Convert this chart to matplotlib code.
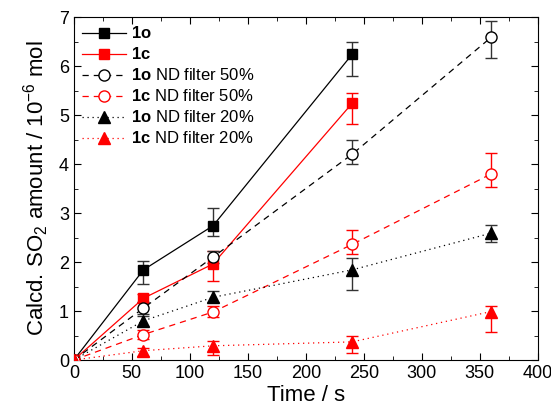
import numpy as np
import matplotlib
matplotlib.use("Agg")
import matplotlib.pyplot as plt
from matplotlib.ticker import MultipleLocator

plt.rcParams['font.family'] = ['Liberation Sans', 'DejaVu Sans']
plt.rcParams['mathtext.fontset'] = 'custom'
plt.rcParams['mathtext.rm'] = 'Liberation Sans'
plt.rcParams['mathtext.bf'] = 'Liberation Sans:bold'

# time points (s)
t_full = [0, 60, 120, 240]
t_nd = [0, 60, 120, 240, 360]

# SO2 amounts (1e-6 mol)
y_1o = [0, 1.84, 2.74, 6.24]
y_1c = [0, 1.26, 1.96, 5.24]
y_1o_50 = [0, 1.06, 2.10, 4.20, 6.59]
y_1c_50 = [0, 0.52, 0.98, 2.36, 3.80]
y_1o_20 = [0, 0.80, 1.28, 1.84, 2.59]
y_1c_20 = [0, 0.19, 0.29, 0.37, 0.99]

# asymmetric errors (lower, upper)
err_1o = [[0, 0.29, 0.21, 0.44], [0, 0.19, 0.36, 0.24]]
err_1c = [[0, 0.08, 0.34, 0.42], [0, 0.08, 0.27, 0.21]]
err_1o_50 = [[0, 0.12, 0.12, 0.20, 0.43], [0, 0.12, 0.12, 0.28, 0.32]]
err_1c_50 = [[0, 0.1, 0.1, 0.2, 0.26], [0, 0.1, 0.12, 0.29, 0.42]]
err_1o_20 = [[0, 0.1, 0.1, 0.41, 0.19], [0, 0.1, 0.13, 0.24, 0.17]]
err_1c_20 = [[0, 0.1, 0.19, 0.23, 0.41], [0, 0.05, 0.09, 0.11, 0.12]]

labels = [r"$\mathbf{1o}$", r"$\mathbf{1c}$",
          r"$\mathbf{1o}$ ND filter 50%", r"$\mathbf{1c}$ ND filter 50%",
          r"$\mathbf{1o}$ ND filter 20%", r"$\mathbf{1c}$ ND filter 20%"]

fig = plt.figure(figsize=(5.51, 4.15), dpi=100)
ax = fig.add_axes([0.134, 0.1325, 0.842, 0.8265])

series = [
    (t_full, y_1o, err_1o, 'black', 's', '-', 'black'),
    (t_full, y_1c, err_1c, 'red', 's', '-', 'red'),
    (t_nd, y_1o_50, err_1o_50, 'black', 'o', (0, (5, 4)), 'white'),
    (t_nd, y_1c_50, err_1c_50, 'red', 'o', (0, (5, 4)), 'white'),
    (t_nd, y_1o_20, err_1o_20, 'black', '^', (0, (1, 3)), 'black'),
    (t_nd, y_1c_20, err_1c_20, 'red', '^', (0, (1, 3)), 'red'),
]

handles = []
for (x, y, e, c, m, ls, fc), lab in zip(series, labels):
    ecol = '#333333' if c == 'black' else 'red'
    ax.errorbar(x, y, yerr=e, fmt='none', ecolor=ecol, elinewidth=1.0,
                capsize=4, capthick=1.0, zorder=2)
    h, = ax.plot(x, y, color=c, linestyle=ls, linewidth=0.9, marker=m,
                 markersize=7 if m == 's' else 8, markerfacecolor=fc,
                 markeredgecolor=c, markeredgewidth=1.0, label=lab, zorder=3)
    handles.append(h)

ax.set_xlim(0, 400)
ax.set_ylim(0, 7)
ax.xaxis.set_major_locator(MultipleLocator(50))
ax.xaxis.set_minor_locator(MultipleLocator(25))
ax.yaxis.set_major_locator(MultipleLocator(1))
ax.yaxis.set_minor_locator(MultipleLocator(0.5))
ax.tick_params(which='both', direction='in', top=True, right=True, labelsize=13)
ax.tick_params(which='major', length=5)
ax.tick_params(which='minor', length=3)

ax.set_xlabel("Time / s", fontsize=16, labelpad=2)
ax.set_ylabel(r"Calcd. SO$_2$ amount / 10$^{-6}$ mol", fontsize=16, labelpad=6)

ax.legend(handles=handles, loc='upper left', frameon=False, fontsize=12,
          handlelength=2.6, handletextpad=0.3, labelspacing=0.3,
          borderaxespad=0.2, borderpad=0.3)

plt.savefig("out.png", dpi=100)
plt.close()
